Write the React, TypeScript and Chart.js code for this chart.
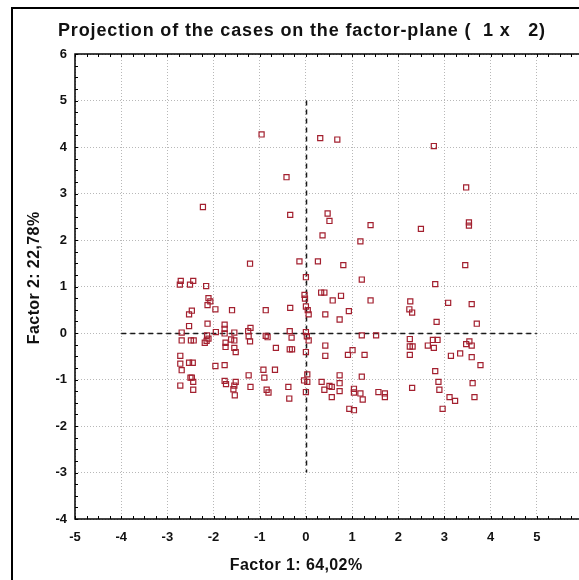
import React, { useEffect, useRef } from "react";
import { Chart, registerables } from "chart.js";

Chart.register(...registerables);

const chartTitle = "Projection of the cases on the factor-plane (  1 x   2)";
const xTitle = "Factor 1: 64,02%";
const yTitle = "Factor 2: 22,78%";

const xTicks = [-5, -4, -3, -2, -1, 0, 1, 2, 3, 4, 5, 6];
const yTicks = [-4, -3, -2, -1, 0, 1, 2, 3, 4, 5, 6];

// Factor 1 coordinates of the cases
const factor1 = [
  -0.96, -0.42, -0.34, -2.23, 0.31, 0.68, 2.77, 3.47, 0.47, 0.51, 1.40, 2.49, 3.53, 3.53, 0.36, 1.18,
  -2.71, -2.73, -2.51, -2.44, -2.16, -2.11, -2.07, -2.13, -1.96, -2.47, -2.53, -1.60, -0.87, -0.34,
  -1.21, -0.14, 0.0, -0.03, -0.02, 0.0, 0.04, 0.06, -2.53, -2.13, -1.76, -1.76, -1.95, -1.76, -2.69,
  -1.55, -1.25, -1.20, -1.24, -1.21, -0.87, -0.83, -0.35, -0.31, 0.0, -2.14, -2.11, -2.69, -2.49,
  -2.43, -2.19, -2.15, -1.74, -1.74, -1.62, -1.55, -1.55, -1.52, -0.65, -0.35, -0.30, 0.0, 0.02,
  0.06, -2.72, -2.72, -2.69, -2.53, -2.45, -1.96, -1.76, -1.24, -0.92, -0.67, -0.90, -2.50, -2.47,
  -2.44, -2.72, -2.44, -1.76, -1.73, -1.52, -1.55, -1.57, -1.54, -1.20, -0.85, -0.81, -0.38, -0.36,
  -0.04, 0.03, 0.03, 0.0,
  0.26, 0.81, 3.45, 1.21, 2.80, 0.33, 0.40, 0.76, 0.58, 1.40, 2.26, 3.08, 3.59, 0.42, 0.93, 0.73,
  2.24, 2.30, 2.83, 3.70, 1.21, 1.52, 2.25, 2.25, 2.31, 2.75, 2.85, 2.64, 2.77, 3.54, 3.47, 3.59,
  2.25, 3.14, 3.34, 3.59, 3.78, 0.42, 0.42, 1.01, 0.91, 1.27, 2.80, 0.73, 1.21, 0.34, 0.73, 0.51,
  0.56, 0.40, 0.73, 1.04, 1.04, 1.18, 1.23, 0.56, 1.57, 1.71, 1.71, 0.94, 1.04, 2.30, 2.87, 2.89,
  3.11, 3.23, 3.61, 3.65, 2.96,
];

// Factor 2 coordinates of the cases
const factor2 = [
  4.27, 3.35, 2.54, 2.71, 4.19, 4.16, 4.02, 3.13, 2.57, 2.41, 2.32, 2.24, 2.38, 2.31, 2.10, 1.97,
  1.12, 1.04, 1.04, 1.12, 1.01, 0.75, 0.68, 0.60, 0.51, 0.48, 0.40, 0.49, 0.49, 0.54,
  1.49, 1.54, 1.20, 0.82, 0.74, 0.57, 0.49, 0.40, 0.15, 0.20, 0.18, 0.09, 0.02, -0.01, 0.01,
  0.01, 0.04, 0.11, -0.07, -0.18, -0.06, -0.09, 0.04, -0.10, 0.02, -0.05, -0.12, -0.16, -0.16,
  -0.16, -0.21, -0.17, -0.21, -0.30, -0.14, -0.16, -0.32, -0.41, -0.32, -0.35, -0.35, -0.41, -0.07,
  -0.16, -0.49, -0.66, -0.80, -0.64, -0.64, -0.71, -0.69, -0.91, -0.79, -0.79, -0.96, -0.96, -0.96,
  -1.05, -1.13, -1.22, -1.03, -1.10, -1.05, -1.13, -1.21, -1.34, -1.16, -1.22, -1.28, -1.16, -1.41,
  -1.02, -1.05, -0.89, -1.27,
  1.54, 1.46, 1.46, 1.15, 1.05, 0.87, 0.87, 0.80, 0.70, 0.70, 0.68, 0.65, 0.62, 0.40, 0.47, 0.29,
  0.51, 0.44, 0.24, 0.20, -0.05, -0.05, -0.13, -0.29, -0.29, -0.15, -0.15, -0.27, -0.32, -0.18, -0.24, -0.27,
  -0.47, -0.49, -0.44, -0.52, -0.69, -0.27, -0.49, -0.37, -0.47, -0.47, -0.82, -0.91, -0.94, -1.05, -1.08, -1.14,
  -1.16, -1.22, -1.25, -1.20, -1.28, -1.30, -1.43, -1.38, -1.27, -1.30, -1.38, -1.63, -1.66, -1.18, -1.05, -1.22,
  -1.38, -1.46, -1.08, -1.38, -1.63,
];

const FONT = "'Liberation Sans', Arial, Helvetica, sans-serif";

function spacedText(ctx: any, text: string, x: number, y: number, spacing: number) {
  // draw text centered at (x, y) with extra letter spacing
  try {
    ctx.letterSpacing = `${spacing}px`;
    ctx.fillText(text, x + spacing / 2, y);
    ctx.letterSpacing = "0px";
  } catch (e) {
    ctx.fillText(text, x, y);
  }
}

const decorPlugin = {
  id: "decor",
  beforeDraw(chart: any) {
    const ctx = chart.ctx;
    ctx.save();
    ctx.fillStyle = "#ffffff";
    ctx.fillRect(0, 0, chart.width, chart.height);
    ctx.restore();
  },
  beforeDatasetsDraw(chart: any) {
    const ctx = chart.ctx;
    const xs = chart.scales.x;
    const ys = chart.scales.y;
    ctx.save();
    ctx.strokeStyle = "#1a1a1a";
    ctx.lineWidth = 1.5;
    ctx.setLineDash([5, 4]);
    ctx.beginPath();
    const y0 = Math.round(ys.getPixelForValue(0)) + 0.5;
    ctx.moveTo(xs.getPixelForValue(-4), y0);
    ctx.lineTo(xs.getPixelForValue(5), y0);
    const x0 = Math.round(xs.getPixelForValue(0)) + 0.5;
    ctx.moveTo(x0, ys.getPixelForValue(5));
    ctx.lineTo(x0, ys.getPixelForValue(-3));
    ctx.stroke();
    ctx.restore();
  },
  afterDatasetsDraw(chart: any) {
    const ctx = chart.ctx;
    const { left, right, top, bottom } = chart.chartArea;
    const xs = chart.scales.x;
    const ys = chart.scales.y;
    ctx.save();
    // plot border
    ctx.strokeStyle = "#000000";
    ctx.lineWidth = 1.5;
    ctx.setLineDash([]);
    ctx.strokeRect(left, top, right - left, bottom - top);
    // small ticks every 0.25
    ctx.lineWidth = 1;
    ctx.beginPath();
    for (let v = -5; v <= 6.001; v += 0.25) {
      const px = Math.round(xs.getPixelForValue(v)) + 0.5;
      ctx.moveTo(px, top);
      ctx.lineTo(px, top + 3);
      ctx.moveTo(px, bottom);
      ctx.lineTo(px, bottom - 3);
    }
    for (let v = -4; v <= 6.001; v += 0.25) {
      const py = Math.round(ys.getPixelForValue(v)) + 0.5;
      ctx.moveTo(left, py);
      ctx.lineTo(left + 3, py);
      ctx.moveTo(right, py);
      ctx.lineTo(right - 3, py);
    }
    ctx.stroke();
    // outer frame
    ctx.lineWidth = 2;
    ctx.strokeRect(12, 8, 700, 700);
    // texts
    ctx.fillStyle = "#111111";
    ctx.textAlign = "center";
    ctx.textBaseline = "middle";
    ctx.font = `bold 18px ${FONT}`;
    spacedText(ctx, chartTitle, 301.5, 31, 0.85);
    ctx.font = `bold 16px ${FONT}`;
    spacedText(ctx, xTitle, 296, 566, 0.4);
    ctx.translate(35, 278);
    ctx.rotate(-Math.PI / 2);
    spacedText(ctx, yTitle, 0, 0, 0.4);
    ctx.restore();
  },
};

export default function App() {
  const ref = useRef<HTMLCanvasElement | null>(null);
  useEffect(() => {
    if (!ref.current) return;
    const points = factor1.map((x, i) => ({ x, y: factor2[i] }));
    const chart = new Chart(ref.current, {
      type: "scatter",
      data: {
        datasets: [
          {
            data: points,
            pointStyle: "rect",
            pointRadius: 3.6,
            pointHoverRadius: 3.6,
            pointBorderWidth: 1.2,
            borderColor: "#a3202f",
            backgroundColor: "rgba(255,255,255,0)",
          },
        ],
      },
      options: {
        responsive: false,
        animation: false,
        events: [],
        layout: { padding: { left: 0, top: 54, right: 17, bottom: 0 } },
        plugins: {
          legend: { display: false },
          tooltip: { enabled: false },
          title: { display: false },
        },
        scales: {
          x: {
            type: "linear",
            min: -5,
            max: 6,
            afterFit: (s: any) => {
              s.height = 61;
            },
            afterBuildTicks: (s: any) => {
              s.ticks = xTicks.map((v) => ({ value: v }));
            },
            ticks: {
              color: "#111111",
              padding: 11,
              font: { family: FONT, size: 13, weight: "bold" },
              maxRotation: 0,
            },
            grid: { color: "#b8b8b8", lineWidth: 1, drawTicks: false },
            border: { display: false, dash: [1, 2] },
          },
          y: {
            type: "linear",
            min: -4,
            max: 6,
            afterFit: (s: any) => {
              s.width = 75;
            },
            afterBuildTicks: (s: any) => {
              s.ticks = yTicks.map((v) => ({ value: v }));
            },
            ticks: {
              color: "#111111",
              padding: 8,
              font: { family: FONT, size: 13, weight: "bold" },
            },
            grid: { color: "#b8b8b8", lineWidth: 1, drawTicks: false },
            border: { display: false, dash: [1, 2] },
          },
        },
      },
      plugins: [decorPlugin],
    });
    return () => chart.destroy();
  }, []);
  return (
    <div
      style={{
        position: "fixed",
        left: 0,
        top: 0,
        width: 579,
        height: 580,
        overflow: "hidden",
        background: "#ffffff",
      }}
    >
      <canvas ref={ref} width={600} height={580} style={{ display: "block" }} />
    </div>
  );
}
